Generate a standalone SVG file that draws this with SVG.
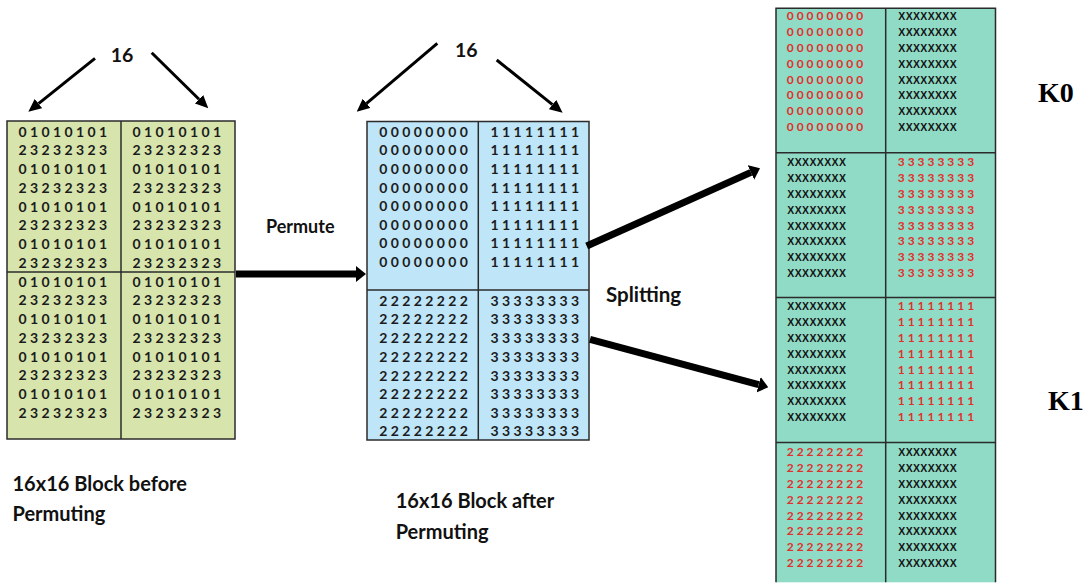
<svg xmlns="http://www.w3.org/2000/svg" width="1089" height="585" viewBox="0 0 1089 585">
  <style>
    .bg { fill: #ffffff; }
    .grid { stroke: #2b2b2b; stroke-width: 1.5; fill: none; }
    .dg { font-family: Lato, "Open Sans", "Liberation Sans", sans-serif; font-weight: 700; font-size: 14px; fill: #1c1c1c; }
    .rd { font-family: Lato, "Open Sans", "Liberation Sans", sans-serif; font-weight: 700; font-size: 12px; fill: #e0302c; }
    .xx { font-family: "Liberation Sans", Arial, sans-serif; font-weight: 700; font-size: 10.5px; fill: #141414; }
    .lbl { font-family: Lato, "Open Sans", "Liberation Sans", sans-serif; font-weight: 700; fill: #111111; }
    .key { font-family: "Liberation Serif", "Times New Roman", serif; font-weight: 700; font-size: 28px; fill: #000000; }
    .thin { stroke: #000000; stroke-width: 3; fill: none; }
    .thick { stroke: #000000; stroke-width: 7; fill: none; }
  </style>
  <defs>
    <marker id="headThin" viewBox="0 -6 13 12" refX="0" refY="0" markerWidth="13" markerHeight="12" markerUnits="userSpaceOnUse" orient="auto">
      <path d="M0,-6 L13,0 L0,6 z" fill="#000000"/>
    </marker>
    <marker id="headThick" viewBox="0 -8 10 16" refX="0" refY="0" markerWidth="10" markerHeight="16" markerUnits="userSpaceOnUse" orient="auto">
      <path d="M0,-8 L10,0 L0,8 z" fill="#000000"/>
    </marker>
  </defs>

  <rect class="bg" x="0" y="0" width="1089" height="585"/>

  <!-- 16x16 block before permuting -->
  <g id="block-before">
    <rect x="7" y="121" width="228" height="318" fill="#d7e5ad"/>
    <rect class="grid" x="7" y="121" width="228" height="318"/>
    <line class="grid" x1="121" y1="121" x2="121" y2="439"/>
    <line class="grid" x1="7" y1="272" x2="235" y2="272"/>
    <g class="dg">
      <text x="18.6" y="136.7" textLength="88.5" lengthAdjust="spacing">01010101</text>
      <text x="18.6" y="155.45" textLength="88.5" lengthAdjust="spacing">23232323</text>
      <text x="18.6" y="174.2" textLength="88.5" lengthAdjust="spacing">01010101</text>
      <text x="18.6" y="192.95" textLength="88.5" lengthAdjust="spacing">23232323</text>
      <text x="18.6" y="211.7" textLength="88.5" lengthAdjust="spacing">01010101</text>
      <text x="18.6" y="230.45" textLength="88.5" lengthAdjust="spacing">23232323</text>
      <text x="18.6" y="249.2" textLength="88.5" lengthAdjust="spacing">01010101</text>
      <text x="18.6" y="267.95" textLength="88.5" lengthAdjust="spacing">23232323</text>
      <text x="18.6" y="286.7" textLength="88.5" lengthAdjust="spacing">01010101</text>
      <text x="18.6" y="305.45" textLength="88.5" lengthAdjust="spacing">23232323</text>
      <text x="18.6" y="324.2" textLength="88.5" lengthAdjust="spacing">01010101</text>
      <text x="18.6" y="342.95" textLength="88.5" lengthAdjust="spacing">23232323</text>
      <text x="18.6" y="361.7" textLength="88.5" lengthAdjust="spacing">01010101</text>
      <text x="18.6" y="380.45" textLength="88.5" lengthAdjust="spacing">23232323</text>
      <text x="18.6" y="399.2" textLength="88.5" lengthAdjust="spacing">01010101</text>
      <text x="18.6" y="417.95" textLength="88.5" lengthAdjust="spacing">23232323</text>

      <text x="132.6" y="136.7" textLength="88.5" lengthAdjust="spacing">01010101</text>
      <text x="132.6" y="155.45" textLength="88.5" lengthAdjust="spacing">23232323</text>
      <text x="132.6" y="174.2" textLength="88.5" lengthAdjust="spacing">01010101</text>
      <text x="132.6" y="192.95" textLength="88.5" lengthAdjust="spacing">23232323</text>
      <text x="132.6" y="211.7" textLength="88.5" lengthAdjust="spacing">01010101</text>
      <text x="132.6" y="230.45" textLength="88.5" lengthAdjust="spacing">23232323</text>
      <text x="132.6" y="249.2" textLength="88.5" lengthAdjust="spacing">01010101</text>
      <text x="132.6" y="267.95" textLength="88.5" lengthAdjust="spacing">23232323</text>
      <text x="132.6" y="286.7" textLength="88.5" lengthAdjust="spacing">01010101</text>
      <text x="132.6" y="305.45" textLength="88.5" lengthAdjust="spacing">23232323</text>
      <text x="132.6" y="324.2" textLength="88.5" lengthAdjust="spacing">01010101</text>
      <text x="132.6" y="342.95" textLength="88.5" lengthAdjust="spacing">23232323</text>
      <text x="132.6" y="361.7" textLength="88.5" lengthAdjust="spacing">01010101</text>
      <text x="132.6" y="380.45" textLength="88.5" lengthAdjust="spacing">23232323</text>
      <text x="132.6" y="399.2" textLength="88.5" lengthAdjust="spacing">01010101</text>
      <text x="132.6" y="417.95" textLength="88.5" lengthAdjust="spacing">23232323</text>
    </g>
  </g>

  <!-- 16x16 block after permuting -->
  <g id="block-after">
    <rect x="367" y="121.5" width="222" height="318.5" fill="#bee5f8"/>
    <rect class="grid" x="367" y="121.5" width="222" height="318.5"/>
    <line class="grid" x1="478.3" y1="121.5" x2="478.3" y2="440"/>
    <line class="grid" x1="367" y1="290" x2="589" y2="290"/>
    <g class="dg">
      <text x="379.3" y="136.7" textLength="88.5" lengthAdjust="spacing">00000000</text>
      <text x="379.3" y="155.3" textLength="88.5" lengthAdjust="spacing">00000000</text>
      <text x="379.3" y="173.9" textLength="88.5" lengthAdjust="spacing">00000000</text>
      <text x="379.3" y="192.5" textLength="88.5" lengthAdjust="spacing">00000000</text>
      <text x="379.3" y="211.1" textLength="88.5" lengthAdjust="spacing">00000000</text>
      <text x="379.3" y="229.7" textLength="88.5" lengthAdjust="spacing">00000000</text>
      <text x="379.3" y="248.3" textLength="88.5" lengthAdjust="spacing">00000000</text>
      <text x="379.3" y="266.9" textLength="88.5" lengthAdjust="spacing">00000000</text>

      <text x="490.5" y="136.7" textLength="88.5" lengthAdjust="spacing">11111111</text>
      <text x="490.5" y="155.3" textLength="88.5" lengthAdjust="spacing">11111111</text>
      <text x="490.5" y="173.9" textLength="88.5" lengthAdjust="spacing">11111111</text>
      <text x="490.5" y="192.5" textLength="88.5" lengthAdjust="spacing">11111111</text>
      <text x="490.5" y="211.1" textLength="88.5" lengthAdjust="spacing">11111111</text>
      <text x="490.5" y="229.7" textLength="88.5" lengthAdjust="spacing">11111111</text>
      <text x="490.5" y="248.3" textLength="88.5" lengthAdjust="spacing">11111111</text>
      <text x="490.5" y="266.9" textLength="88.5" lengthAdjust="spacing">11111111</text>

      <text x="379.3" y="305.7" textLength="88.5" lengthAdjust="spacing">22222222</text>
      <text x="379.3" y="324.4" textLength="88.5" lengthAdjust="spacing">22222222</text>
      <text x="379.3" y="343.1" textLength="88.5" lengthAdjust="spacing">22222222</text>
      <text x="379.3" y="361.8" textLength="88.5" lengthAdjust="spacing">22222222</text>
      <text x="379.3" y="380.5" textLength="88.5" lengthAdjust="spacing">22222222</text>
      <text x="379.3" y="399.2" textLength="88.5" lengthAdjust="spacing">22222222</text>
      <text x="379.3" y="417.9" textLength="88.5" lengthAdjust="spacing">22222222</text>
      <text x="379.3" y="436.3" textLength="88.5" lengthAdjust="spacing">22222222</text>

      <text x="490.5" y="305.7" textLength="88.5" lengthAdjust="spacing">33333333</text>
      <text x="490.5" y="324.4" textLength="88.5" lengthAdjust="spacing">33333333</text>
      <text x="490.5" y="343.1" textLength="88.5" lengthAdjust="spacing">33333333</text>
      <text x="490.5" y="361.8" textLength="88.5" lengthAdjust="spacing">33333333</text>
      <text x="490.5" y="380.5" textLength="88.5" lengthAdjust="spacing">33333333</text>
      <text x="490.5" y="399.2" textLength="88.5" lengthAdjust="spacing">33333333</text>
      <text x="490.5" y="417.9" textLength="88.5" lengthAdjust="spacing">33333333</text>
      <text x="490.5" y="436.3" textLength="88.5" lengthAdjust="spacing">33333333</text>
    </g>
  </g>

  <!-- split block: K0 (upper two quadrants) and K1 (lower two quadrants) -->
  <g id="block-split">
    <rect x="776" y="8.3" width="219.5" height="574" fill="#90dbc6"/>
    <path class="grid" d="M776,582.3 V8.3 H995.5 V582.3"/>
    <line class="grid" x1="885.7" y1="8.3" x2="885.7" y2="582.3"/>
    <line class="grid" x1="776" y1="152.7" x2="995.5" y2="152.7"/>
    <line class="grid" x1="776" y1="297.5" x2="995.5" y2="297.5"/>
    <line class="grid" x1="776" y1="442.5" x2="995.5" y2="442.5"/>

    <g id="k0-q0">
      <g class="rd">
        <text x="786.7" y="19.9" textLength="76.5" lengthAdjust="spacing">00000000</text>
        <text x="786.7" y="35.8" textLength="76.5" lengthAdjust="spacing">00000000</text>
        <text x="786.7" y="51.7" textLength="76.5" lengthAdjust="spacing">00000000</text>
        <text x="786.7" y="67.6" textLength="76.5" lengthAdjust="spacing">00000000</text>
        <text x="786.7" y="83.5" textLength="76.5" lengthAdjust="spacing">00000000</text>
        <text x="786.7" y="99.4" textLength="76.5" lengthAdjust="spacing">00000000</text>
        <text x="786.7" y="115.3" textLength="76.5" lengthAdjust="spacing">00000000</text>
        <text x="786.7" y="131.2" textLength="76.5" lengthAdjust="spacing">00000000</text>
      </g>
      <g class="xx">
        <text x="898.3" y="19.9" textLength="58.4" lengthAdjust="spacing">XXXXXXXX</text>
        <text x="898.3" y="35.8" textLength="58.4" lengthAdjust="spacing">XXXXXXXX</text>
        <text x="898.3" y="51.7" textLength="58.4" lengthAdjust="spacing">XXXXXXXX</text>
        <text x="898.3" y="67.6" textLength="58.4" lengthAdjust="spacing">XXXXXXXX</text>
        <text x="898.3" y="83.5" textLength="58.4" lengthAdjust="spacing">XXXXXXXX</text>
        <text x="898.3" y="99.4" textLength="58.4" lengthAdjust="spacing">XXXXXXXX</text>
        <text x="898.3" y="115.3" textLength="58.4" lengthAdjust="spacing">XXXXXXXX</text>
        <text x="898.3" y="131.2" textLength="58.4" lengthAdjust="spacing">XXXXXXXX</text>
      </g>
    </g>

    <g id="k0-q1">
      <g class="xx">
        <text x="787.3" y="165.9" textLength="58.7" lengthAdjust="spacing">XXXXXXXX</text>
        <text x="787.3" y="181.8" textLength="58.7" lengthAdjust="spacing">XXXXXXXX</text>
        <text x="787.3" y="197.7" textLength="58.7" lengthAdjust="spacing">XXXXXXXX</text>
        <text x="787.3" y="213.6" textLength="58.7" lengthAdjust="spacing">XXXXXXXX</text>
        <text x="787.3" y="229.5" textLength="58.7" lengthAdjust="spacing">XXXXXXXX</text>
        <text x="787.3" y="245.4" textLength="58.7" lengthAdjust="spacing">XXXXXXXX</text>
        <text x="787.3" y="261.3" textLength="58.7" lengthAdjust="spacing">XXXXXXXX</text>
        <text x="787.3" y="277.2" textLength="58.7" lengthAdjust="spacing">XXXXXXXX</text>
      </g>
      <g class="rd">
        <text x="897.7" y="165.9" textLength="76.5" lengthAdjust="spacing">33333333</text>
        <text x="897.7" y="181.8" textLength="76.5" lengthAdjust="spacing">33333333</text>
        <text x="897.7" y="197.7" textLength="76.5" lengthAdjust="spacing">33333333</text>
        <text x="897.7" y="213.6" textLength="76.5" lengthAdjust="spacing">33333333</text>
        <text x="897.7" y="229.5" textLength="76.5" lengthAdjust="spacing">33333333</text>
        <text x="897.7" y="245.4" textLength="76.5" lengthAdjust="spacing">33333333</text>
        <text x="897.7" y="261.3" textLength="76.5" lengthAdjust="spacing">33333333</text>
        <text x="897.7" y="277.2" textLength="76.5" lengthAdjust="spacing">33333333</text>
      </g>
    </g>

    <g id="k1-q2">
      <g class="xx">
        <text x="787.3" y="309.9" textLength="58.7" lengthAdjust="spacing">XXXXXXXX</text>
        <text x="787.3" y="325.8" textLength="58.7" lengthAdjust="spacing">XXXXXXXX</text>
        <text x="787.3" y="341.7" textLength="58.7" lengthAdjust="spacing">XXXXXXXX</text>
        <text x="787.3" y="357.6" textLength="58.7" lengthAdjust="spacing">XXXXXXXX</text>
        <text x="787.3" y="373.5" textLength="58.7" lengthAdjust="spacing">XXXXXXXX</text>
        <text x="787.3" y="389.4" textLength="58.7" lengthAdjust="spacing">XXXXXXXX</text>
        <text x="787.3" y="405.3" textLength="58.7" lengthAdjust="spacing">XXXXXXXX</text>
        <text x="787.3" y="421.2" textLength="58.7" lengthAdjust="spacing">XXXXXXXX</text>
      </g>
      <g class="rd">
        <text x="897.7" y="309.9" textLength="76.5" lengthAdjust="spacing">11111111</text>
        <text x="897.7" y="325.8" textLength="76.5" lengthAdjust="spacing">11111111</text>
        <text x="897.7" y="341.7" textLength="76.5" lengthAdjust="spacing">11111111</text>
        <text x="897.7" y="357.6" textLength="76.5" lengthAdjust="spacing">11111111</text>
        <text x="897.7" y="373.5" textLength="76.5" lengthAdjust="spacing">11111111</text>
        <text x="897.7" y="389.4" textLength="76.5" lengthAdjust="spacing">11111111</text>
        <text x="897.7" y="405.3" textLength="76.5" lengthAdjust="spacing">11111111</text>
        <text x="897.7" y="421.2" textLength="76.5" lengthAdjust="spacing">11111111</text>
      </g>
    </g>

    <g id="k1-q3">
      <g class="rd">
        <text x="786.7" y="455.9" textLength="76.5" lengthAdjust="spacing">22222222</text>
        <text x="786.7" y="471.8" textLength="76.5" lengthAdjust="spacing">22222222</text>
        <text x="786.7" y="487.7" textLength="76.5" lengthAdjust="spacing">22222222</text>
        <text x="786.7" y="503.6" textLength="76.5" lengthAdjust="spacing">22222222</text>
        <text x="786.7" y="519.5" textLength="76.5" lengthAdjust="spacing">22222222</text>
        <text x="786.7" y="535.4" textLength="76.5" lengthAdjust="spacing">22222222</text>
        <text x="786.7" y="551.3" textLength="76.5" lengthAdjust="spacing">22222222</text>
        <text x="786.7" y="567.2" textLength="76.5" lengthAdjust="spacing">22222222</text>
      </g>
      <g class="xx">
        <text x="898.3" y="455.9" textLength="58.4" lengthAdjust="spacing">XXXXXXXX</text>
        <text x="898.3" y="471.8" textLength="58.4" lengthAdjust="spacing">XXXXXXXX</text>
        <text x="898.3" y="487.7" textLength="58.4" lengthAdjust="spacing">XXXXXXXX</text>
        <text x="898.3" y="503.6" textLength="58.4" lengthAdjust="spacing">XXXXXXXX</text>
        <text x="898.3" y="519.5" textLength="58.4" lengthAdjust="spacing">XXXXXXXX</text>
        <text x="898.3" y="535.4" textLength="58.4" lengthAdjust="spacing">XXXXXXXX</text>
        <text x="898.3" y="551.3" textLength="58.4" lengthAdjust="spacing">XXXXXXXX</text>
        <text x="898.3" y="567.2" textLength="58.4" lengthAdjust="spacing">XXXXXXXX</text>
      </g>
    </g>
  </g>

  <!-- text labels -->
  <g id="labels">
    <text class="lbl" x="122" y="62" font-size="19.5" text-anchor="middle">16</text>
    <text class="lbl" x="466.3" y="57.3" font-size="19.5" text-anchor="middle">16</text>
    <text class="lbl" x="266" y="233.3" font-size="18">Permute</text>
    <text class="lbl" x="606" y="301.7" font-size="20.5">Splitting</text>
    <text class="lbl" x="12.5" y="491" font-size="20">16x16 Block before</text>
    <text class="lbl" x="12.5" y="520.5" font-size="20">Permuting</text>
    <text class="lbl" x="395.7" y="508" font-size="20">16x16 Block after</text>
    <text class="lbl" x="395.7" y="538.5" font-size="20">Permuting</text>
    <text class="key" x="1038" y="101.7">K0</text>
    <text class="key" x="1048" y="410">K1</text>
  </g>

  <!-- connectors -->
  <g id="connectors">
    <line class="thin" x1="95" y1="58.3" x2="38.5" y2="103.6" marker-end="url(#headThin)"/>
    <line class="thin" x1="151.7" y1="52.7" x2="199" y2="99.2" marker-end="url(#headThin)"/>
    <line class="thin" x1="437.3" y1="43.3" x2="366.6" y2="103.3" marker-end="url(#headThin)"/>
    <line class="thin" x1="496.7" y1="60" x2="552.5" y2="104.6" marker-end="url(#headThin)"/>
    <line class="thick" x1="236" y1="274" x2="356" y2="274" marker-end="url(#headThick)"/>
    <line class="thick" x1="586.7" y1="246" x2="750.9" y2="172.4" marker-end="url(#headThick)"/>
    <line class="thick" x1="590" y1="339.3" x2="758.6" y2="384.7" marker-end="url(#headThick)"/>
  </g>
</svg>
